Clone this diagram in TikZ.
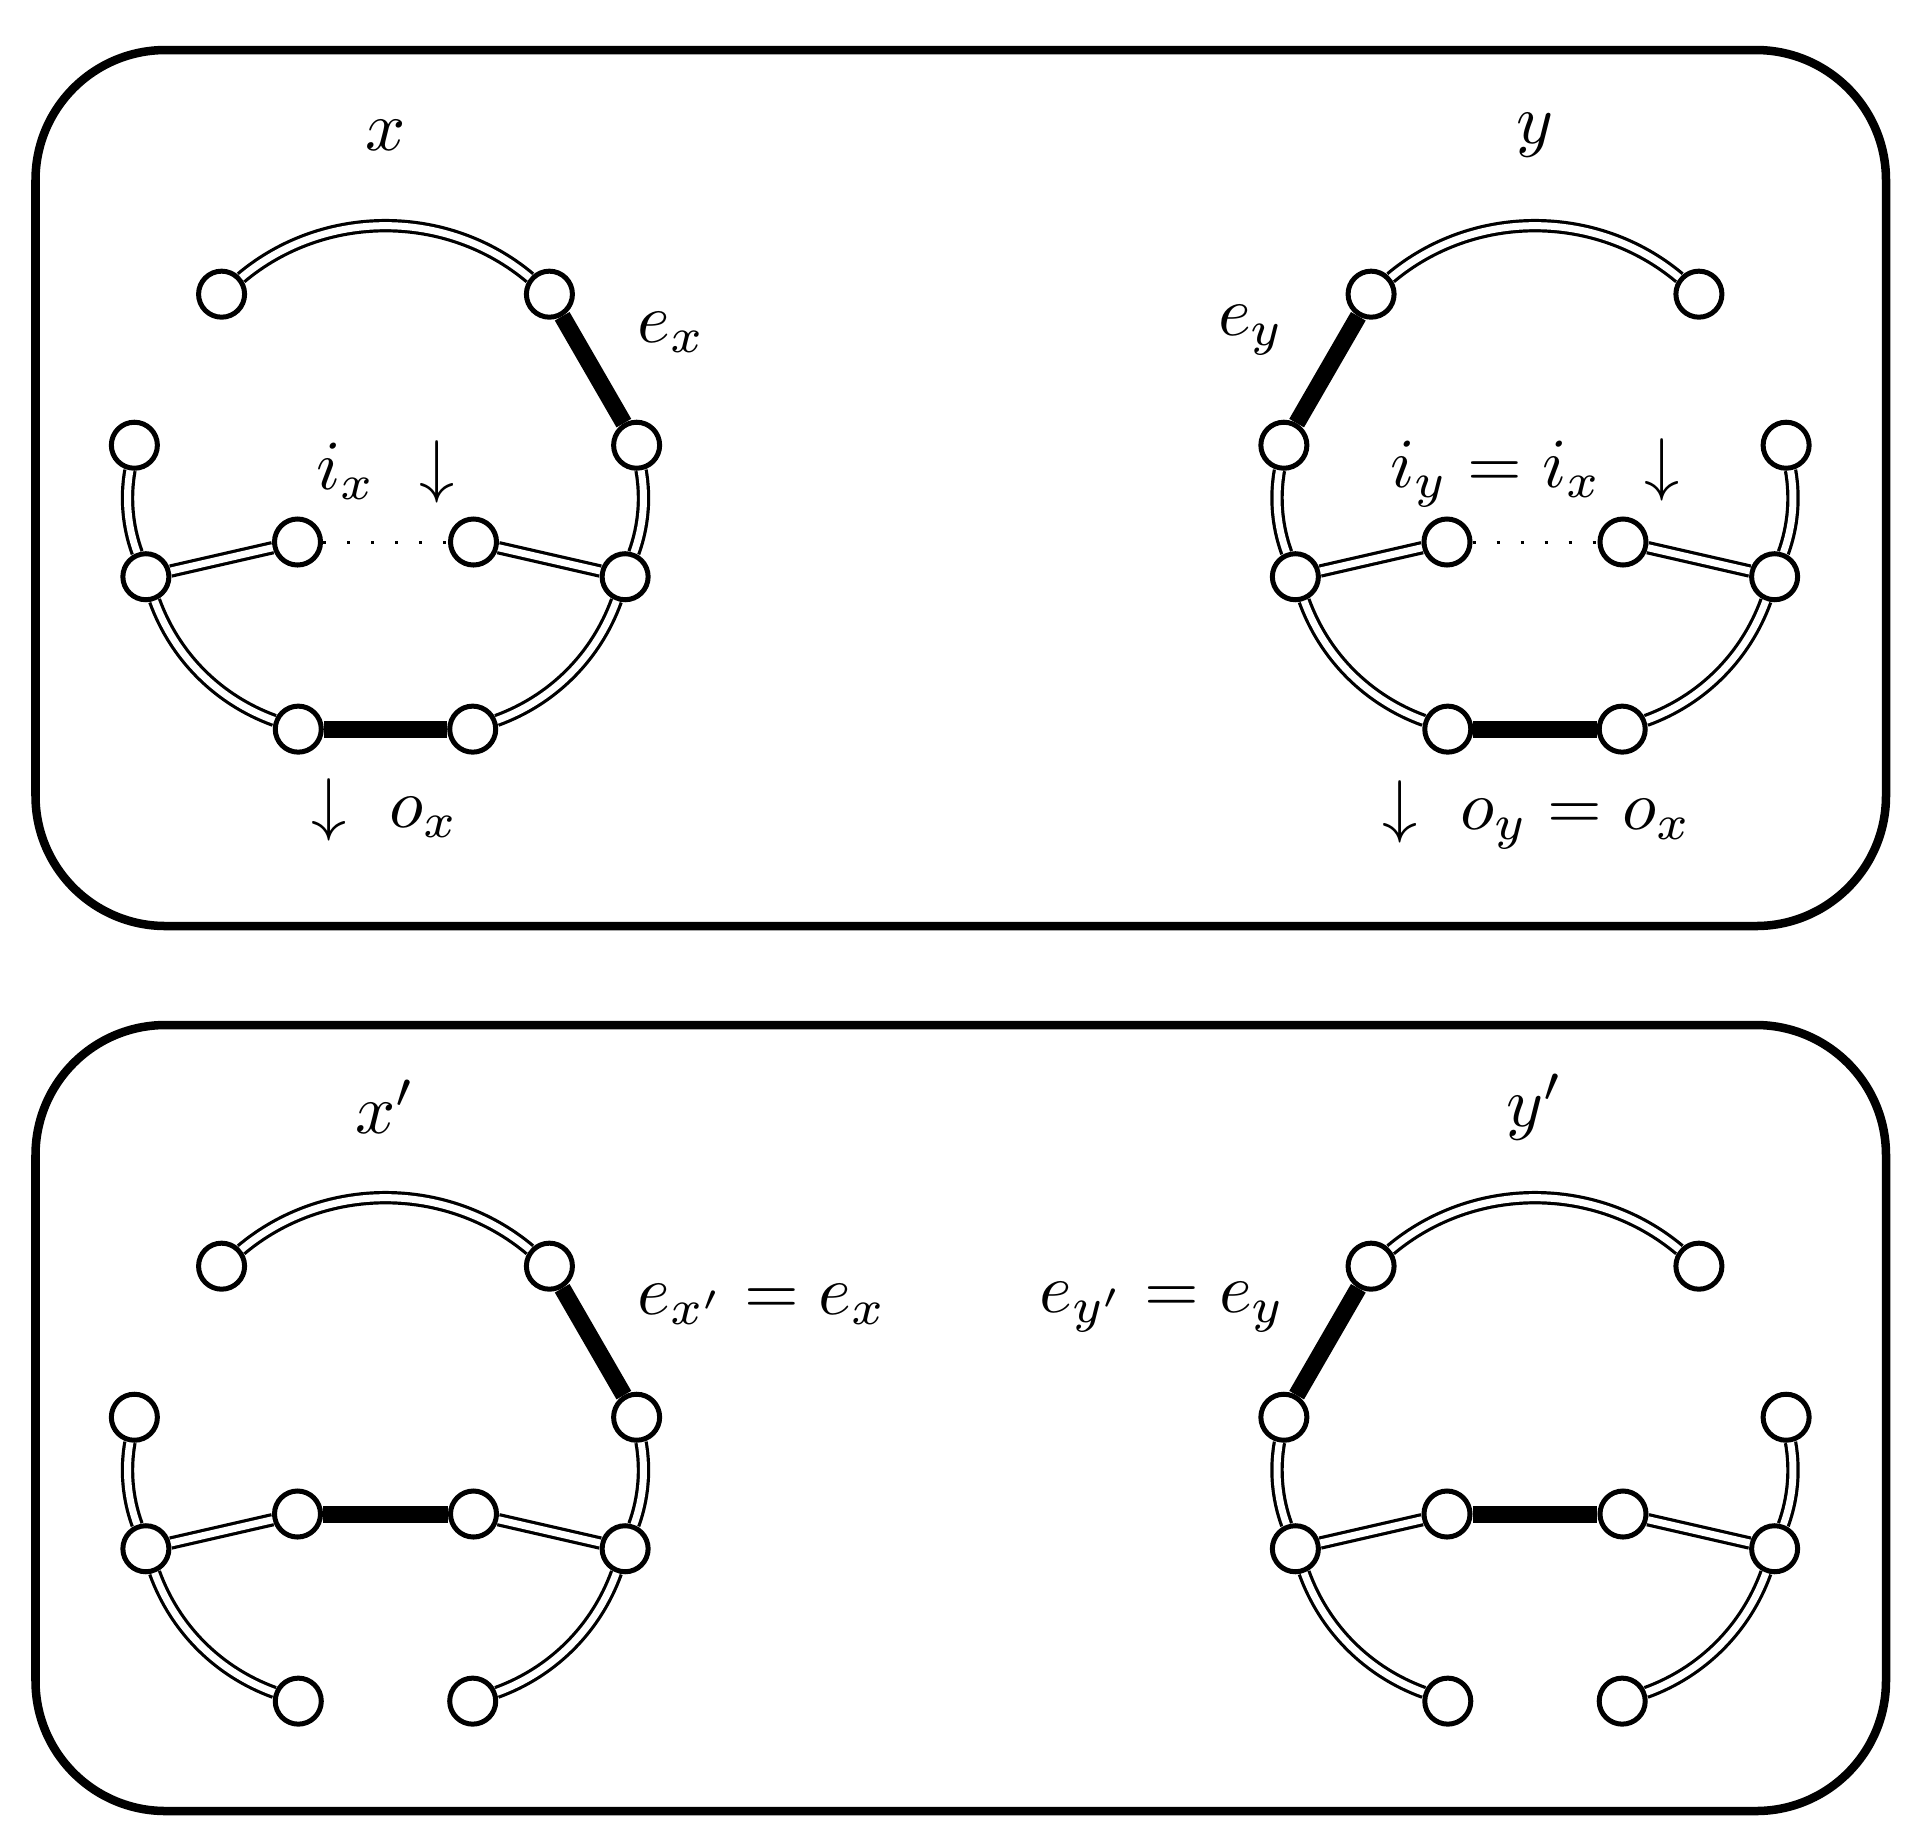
\documentclass[tikz,border=0pt]{standalone}
\usetikzlibrary{calc}
\newcommand\mkgraph[3]{%
  \begin{scope}[shift={(#2,#3)}]
    \node[vtx] (#1tl) at (130:255) {};
    \node[vtx] (#1tr) at (50:255) {};
    \node[vtx] (#1ru) at (10:255) {};
    \node[vtx] (#1lu) at (170:255) {};
    \node[vtx] (#1rm) at (-20:255) {};
    \node[vtx] (#1lm) at (200:255) {};
    \node[vtx] (#1br) at (-70:255) {};
    \node[vtx] (#1bl) at (250:255) {};
    \node[vtx] (#1il) at (-88,-52.5) {};
    \node[vtx] (#1ir) at (88,-52.5) {};
  \end{scope}}
\newcommand\ringedges[1]{%
  \draw[dbl] (#1tl) to[bend left=40,looseness=0.96] (#1tr);
  \draw[dbl] (#1ru) to[bend left=15,looseness=0.87] (#1rm);
  \draw[dbl] (#1rm) to[bend left=25,looseness=0.9] (#1br);
  \draw[dbl] (#1bl) to[bend left=25,looseness=0.9] (#1lm);
  \draw[dbl] (#1lm) to[bend left=15,looseness=0.87] (#1lu);
  \draw[dbl] (#1lm) -- (#1il);
  \draw[dbl] (#1rm) -- (#1ir);}
\begin{document}
\begin{tikzpicture}[x=0.01cm,y=0.01cm,
  vtx/.style={circle,draw,line width=0.05cm,fill=white,minimum size=0.46cm,inner sep=0pt},
  dbl/.style={line width=0.032cm,double=white,double distance=0.07cm},
  heavy/.style={line width=0.17cm},
  dots/.style={line width=0.03cm,dash pattern=on 0.03cm off 0.21cm},
  panel/.style={line width=0.085cm,rounded corners=1.3cm},
  lbl/.style={inner sep=0pt,scale=2.0}]
\useasboundingbox (0,0) rectangle (1920,-1844);
\draw[panel] (35.5,-50) rectangle (1886,-926);
\draw[panel] (35.5,-1025) rectangle (1886,-1811);

\mkgraph{X}{385.5}{-489.5}
\mkgraph{Y}{1535}{-489.5}
\mkgraph{P}{385.5}{-1461.5}
\mkgraph{Q}{1535}{-1461.5}

\ringedges{X}
\ringedges{Y}
\ringedges{P}
\ringedges{Q}

% top panel
\draw[heavy] (Xtr) -- (Xru);
\draw[heavy] (Xbl) -- (Xbr);
\draw[dots] (Xil) -- (Xir);
\draw[heavy] (Ytl) -- (Ylu);
\draw[heavy] (Ybl) -- (Ybr);
\draw[dots] (Yil) -- (Yir);
% bottom panel
\draw[heavy] (Ptr) -- (Pru);
\draw[heavy] (Pil) -- (Pir);
\draw[heavy] (Qtl) -- (Qlu);
\draw[heavy] (Qil) -- (Qir);

% labels
\node[lbl] (Xname) at (385.5,-135) {$x$};
\node[lbl,anchor=base west] (Xe) at (636,-342) {$e_x$};
\node[lbl,anchor=base] (Xi) at (385.5,-489) {$i_x\ \downarrow$};
\node[lbl,anchor=base] (Xo) at (385.5,-827) {$\downarrow\ o_x$};

\node[lbl] (Yname) at (1535,-135) {$y$};
\node[lbl,anchor=base east] (Ye) at (1286,-335) {$e_y$};
\node[lbl,anchor=base] (Yi) at (1535,-487) {$i_y = i_x\ \downarrow$};
\node[lbl,anchor=base] (Yo) at (1537,-829) {$\downarrow\ o_y = o_x$};

\node[lbl] (Pname) at (385.5,-1107) {$x'$};
\node[lbl,anchor=base west] (Pe) at (636,-1314) {$e_{x'} = e_x$};
\node[lbl] (Qname) at (1535,-1107) {$y'$};
\node[lbl,anchor=base east] (Qe) at (1287,-1312) {$e_{y'} = e_y$};
\end{tikzpicture}
\end{document}
